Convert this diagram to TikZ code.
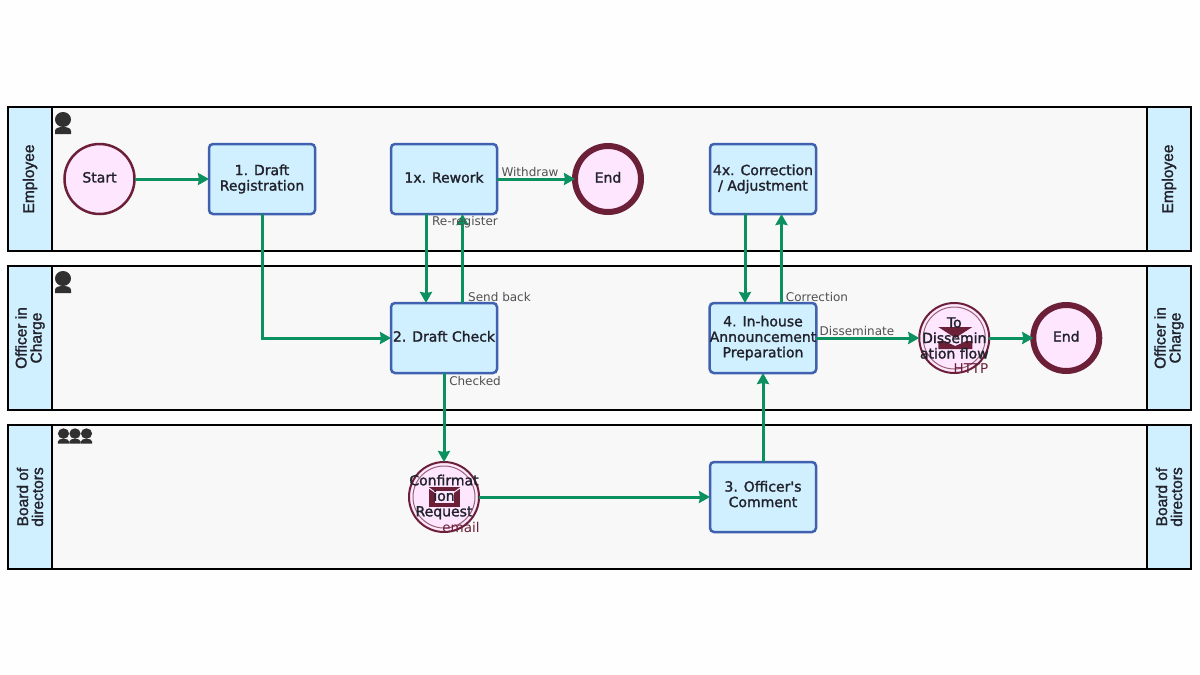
\documentclass[tikz,border=0pt]{standalone}
\usepackage{fontspec}
\setmainfont{DejaVu Sans}
\newfontfamily\lanefont{Liberation Sans}[FakeBold=1.6]
\newfontfamily\taskfont{DejaVu Sans}[FakeBold=1.6]
\usepackage{tikz}
\usetikzlibrary{arrows.meta,positioning,backgrounds}
\definecolor{fontgray}{RGB}{34, 34, 44}
\definecolor{edgegray}{RGB}{80, 80, 80}
\definecolor{flowgreen}{RGB}{10, 145, 95}
\definecolor{taskblue}{RGB}{64, 96, 176}
\definecolor{lightblue}{RGB}{208, 240, 255}
\definecolor{eventred}{RGB}{107, 32, 56}
\definecolor{eventpink}{RGB}{255, 230, 255}
\definecolor{lanegray}{RGB}{248, 248, 248}
\definecolor{icongray}{RGB}{48, 48, 48}

\begin{document}
\begin{tikzpicture}[x=1pt, y=-1pt, >=Stealth,
			lanebody/.style={draw=black, line width=2pt, fill=lanegray, minimum width=1095pt, minimum height=144pt, outer sep=0pt},
			lanehead/.style={draw=black, line width=2pt, fill=lightblue, minimum width=144pt, minimum height=44pt, rotate=90, align=center, inner sep=0pt, text=fontgray, font=\lanefont\fontsize{15.5}{15}\selectfont},
			task/.style={draw=taskblue, line width=2.5pt, rounded corners=4pt, fill=lightblue, minimum width=106pt, minimum height=70pt, inner sep=0pt, outer sep=0pt, align=center, text=fontgray, font=\taskfont\fontsize{14}{15.5}\selectfont},
			startev/.style={draw=eventred, line width=2.5pt, circle, fill=eventpink, minimum size=70pt, inner sep=0pt, outer sep=0pt, align=center, text=fontgray, font=\taskfont\fontsize{14}{15.5}\selectfont},
			endev/.style={startev, line width=6pt, minimum size=66pt},
			msgev/.style={startev, line width=2pt},
			msgtext/.style={inner sep=0pt, align=center, text=fontgray, font=\taskfont\fontsize{14}{15.5}\selectfont},
			ring/.style={draw=eventred!70, line width=1pt},
			oneline/.style={text depth=3.5pt},
			chainLine/.style={line width=3pt, color=flowgreen, arrows={-Stealth[length=11pt,width=12pt,inset=1pt]}},
			edgelabel/.style={inner sep=0pt, text=edgegray, font=\fontsize{12}{14}\selectfont},
			typelabel/.style={inner sep=0pt, text=eventred, font=\fontsize{13.5}{15}\selectfont},
			person/.pic={
				\fill[icongray] (0,-3.5) ellipse (8pt and 7.5pt);
				\fill[icongray] (-8,11) -- (-8,8) .. controls (-8,5) and (-4,4) .. (0,4) .. controls (4,4) and (8,5) .. (8,8) -- (8,11) -- cycle;
			}
			]
			\useasboundingbox (0,0) rectangle (1200,675);
			\fill[white!99.5!black] (0,0) rectangle (1200,675);

			\node[lanebody](lane1) at (599.5,179) {};
			\node[lanebody](lane2) at (599.5,338) {};
			\node[lanebody](lane3) at (599.5,497) {};
			\node[lanehead](h1l) at (30,179) {Employee};
			\node[lanehead](h2l) at (30,338) {Officer in\\Charge};
			\node[lanehead](h3l) at (30,497) {Board of\\directors};
			\node[lanehead](h1r) at (1169,179) {Employee};
			\node[lanehead](h2r) at (1169,338) {Officer in\\Charge};
			\node[lanehead](h3r) at (1169,497) {Board of\\directors};

			\pic at (63,123) {person};
			\pic at (63,282) {person};
			\pic[scale=0.7] at (63.5,436) {person};
			\pic[scale=0.7] at (75,436) {person};
			\pic[scale=0.7] at (86.5,436) {person};

			\node[startev, oneline](start) at (99.5,179) {Start};
			\node[task](t1) [right = 74.5pt of start] {1. Draft\\Registration};
			\node[task, oneline](t1x) [right = 76pt of t1] {1x. Rework};
			\node[endev, oneline](end1) [right = 78pt of t1x] {End};
			\node[task](t4x) at (763,179) {4x. Correction\\/ Adjustment};
			\node[task, oneline](t2) [below = 89pt of t1x] {2. Draft Check};
			\node[task](t4) [below = 89pt of t4x] {4. In-house\\Announcement\\Preparation};
			\node[msgev, path picture={
				\draw[ring] (path picture bounding box.center) circle (31pt);
				\fill[eventred] (-16,-11) -- (18,-11) -- (1,0) -- cycle;
				\fill[eventred] (-16,3) -- (-10,3) -- (1,8) -- (12,3) -- (18,3) -- (18,11) -- (-16,11) -- cycle;
			}](m1) [right = 103pt of t4] {};
			\node[msgtext](m1text) at (m1) {To\\Dissemin\\ation flow};
			\node[endev, oneline](end2) [right = 44pt of m1] {End};
			\node[msgev, path picture={
				\draw[ring] (path picture bounding box.center) circle (31pt);
				\fill[eventred] (-15,-10) rectangle (16,10);
				\draw[eventpink, line width=1pt] (-15,-9) -- (0.5,2) -- (16,-9);
				\fill[eventpink] (-9,-6) rectangle (10,6);
			}](m2) [below = 89pt of t2] {};
			\node[msgtext](m2text) at (m2) {Confirmat\\ion\\Request};
			\node[task, text depth=6pt](t3) at (763,497) {3. Officer's\\Comment};

			\node[typelabel](m1type) at (971,368.5) {HTTP};
			\node[typelabel](m2type) at (461,527.5) {email};

			\draw [chainLine] (start) to (t1);
			\draw [chainLine] (t1.south) |- (t2.west);
			\draw [chainLine] (t1x) to (end1);
			\draw [chainLine] ([xshift=-18pt]t1x.south) to ([xshift=-18pt]t2.north);
			\draw [chainLine] ([xshift=18.5pt]t2.north) to ([xshift=18.5pt]t1x.south);
			\draw [chainLine] (t2) to (m2);
			\draw [chainLine] (m2) to (t3);
			\draw [chainLine] (t3) to (t4);
			\draw [chainLine] ([xshift=-18pt]t4x.south) to ([xshift=-18pt]t4.north);
			\draw [chainLine] ([xshift=18.5pt]t4.north) to ([xshift=18.5pt]t4x.south);
			\draw [chainLine] (t4) to (m1);
			\draw [chainLine] (m1) to (end2);

			\node[edgelabel](l1) at (530,172.5) {Withdraw};
			\node[edgelabel](l2) at (465,222.5) {Re-register};
			\node[edgelabel](l3) at (499.5,297) {Send back};
			\node[edgelabel](l4) at (475,381.5) {Checked};
			\node[edgelabel](l5) at (817,297) {Correction};
			\node[edgelabel](l6) at (857,331.5) {Disseminate};
			\end{tikzpicture}
\end{document}
